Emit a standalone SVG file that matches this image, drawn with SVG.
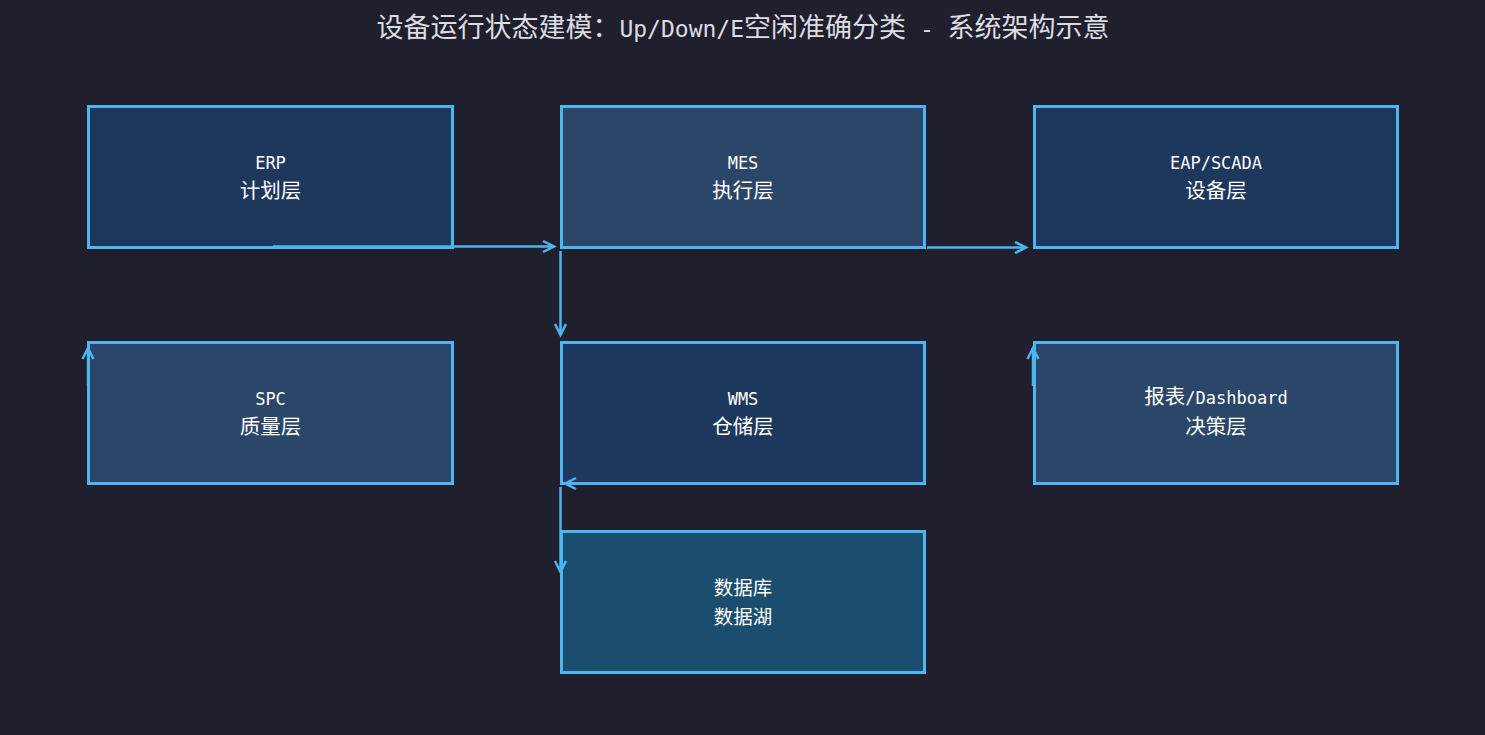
<svg xmlns="http://www.w3.org/2000/svg" width="1485" height="735" viewBox="0 0 1485 735">
<style>
.bg{fill:#1f1f2e}
.box{stroke:#4db5f0;stroke-width:3}
.f1{fill:#1e375c}
.f2{fill:#2b4668}
.f3{fill:#1b4d6f}
.t{fill:#ffffff;text-anchor:middle}
.cjk{font-family:"Noto Sans CJK SC","Noto Sans",sans-serif;font-size:20.5px}
.cjk2{font-family:"Noto Sans CJK SC","Noto Sans",sans-serif;font-size:19.5px}
.lat{font-family:"DejaVu Sans Mono","Liberation Mono",monospace;font-size:17px}
.title{fill:#dcdce0;text-anchor:middle}
.tc{font-family:"Noto Sans CJK SC","Noto Sans",sans-serif;font-size:27px}
.tl{font-family:"DejaVu Sans Mono","Liberation Mono",monospace;font-size:23px}
.conn{stroke:#4db5f0;stroke-width:2.5;fill:none}
</style>
<defs>
<marker id="arr" markerUnits="userSpaceOnUse" markerWidth="16" markerHeight="16" refX="12" refY="6" orient="auto" viewBox="0 0 16 12">
<path d="M1,0.5 L12,6 L1,11.5" fill="none" stroke="#4db5f0" stroke-width="2.5"/>
</marker>
</defs>
<rect class="bg" x="0" y="0" width="1485" height="735"/>
<text class="title" x="743" y="37"><tspan class="tc">设备运行状态建模：</tspan><tspan class="tl">Up/Down/E</tspan><tspan class="tc">空闲准确分类</tspan><tspan class="tl"> - </tspan><tspan class="tc">系统架构示意</tspan></text>

<g id="node-erp">
<rect class="box f1" x="88.5" y="106.5" width="364" height="141"/>
<text class="t lat" x="270.5" y="169">ERP</text>
<text class="t cjk" x="270.5" y="197.5">计划层</text>
</g>
<g id="node-mes">
<rect class="box f2" x="561.5" y="106.5" width="363" height="141"/>
<text class="t lat" x="743" y="169">MES</text>
<text class="t cjk" x="743" y="197.5">执行层</text>
</g>
<g id="node-eap">
<rect class="box f1" x="1034.5" y="106.5" width="363" height="141"/>
<text class="t lat" x="1216" y="169">EAP/SCADA</text>
<text class="t cjk" x="1216" y="197.5">设备层</text>
</g>
<g id="node-spc">
<rect class="box f2" x="88.5" y="342.5" width="364" height="141"/>
<text class="t lat" x="270.5" y="405">SPC</text>
<text class="t cjk" x="270.5" y="433.5">质量层</text>
</g>
<g id="node-wms">
<rect class="box f1" x="561.5" y="342.5" width="363" height="141"/>
<text class="t lat" x="743" y="405">WMS</text>
<text class="t cjk" x="743" y="433.5">仓储层</text>
</g>
<g id="node-report">
<rect class="box f2" x="1034.5" y="342.5" width="363" height="141"/>
<text class="t" x="1216" y="404"><tspan class="cjk">报表</tspan><tspan class="lat">/Dashboard</tspan></text>
<text class="t cjk" x="1216" y="434">决策层</text>
</g>
<g id="node-db">
<rect class="box f3" x="561.5" y="531.5" width="363" height="141"/>
<text class="t cjk2" x="743" y="595">数据库</text>
<text class="t cjk2" x="743" y="623.5">数据湖</text>
</g>

<g id="connectors">
<line class="conn" x1="273" y1="246.5" x2="554" y2="246.5" marker-end="url(#arr)"/>
<line class="conn" x1="560.5" y1="251" x2="560.5" y2="335" marker-end="url(#arr)"/>
<line class="conn" x1="927" y1="247.5" x2="1026" y2="247.5" marker-end="url(#arr)"/>
<line class="conn" x1="88" y1="386" x2="88" y2="348" marker-end="url(#arr)"/>
<line class="conn" x1="1033" y1="386" x2="1033" y2="348" marker-end="url(#arr)"/>
<line class="conn" x1="920" y1="483.5" x2="565" y2="483.5" marker-end="url(#arr)"/>
<line class="conn" x1="560.5" y1="487" x2="560.5" y2="572" marker-end="url(#arr)"/>
</g>
</svg>
